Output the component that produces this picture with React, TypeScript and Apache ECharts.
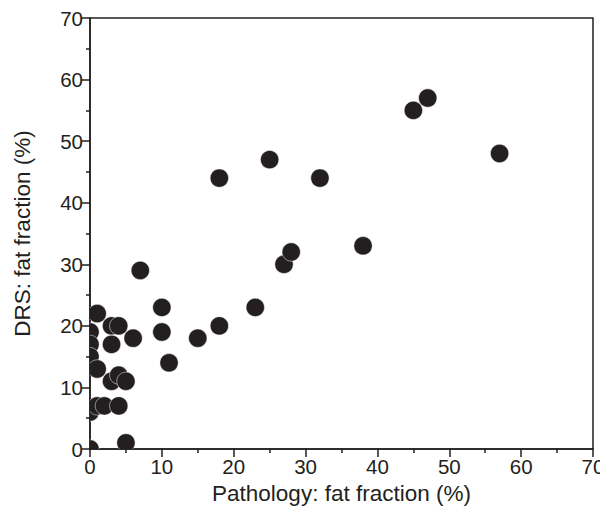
import React, { useEffect, useRef } from "react";
import * as echarts from "echarts";

const pathologyX: number[] = [
  0, 0, 0, 0, 1, 1, 0, 1, 2, 4, 3, 4, 3, 3, 4, 5, 6, 5, 7, 10, 10, 11, 15, 18, 18, 23, 25, 27, 28, 32, 38, 45, 47, 57,
];
const drsY: number[] = [
  0, 19, 17, 15, 13, 22, 6, 7, 7, 7, 11, 12, 20, 17, 20, 11, 18, 1, 29, 23, 19, 14, 18, 44, 20, 23, 47, 30, 32, 44, 33, 55, 57, 48,
];
const axisTicks: number[] = [0, 10, 20, 30, 40, 50, 60, 70];

export default function App() {
  const ref = useRef<HTMLDivElement>(null);
  useEffect(() => {
    if (!ref.current) return;
    const chart = echarts.init(ref.current, undefined, { renderer: "svg" });
    const points = pathologyX.map((x, i) => [x, drsY[i]]);
    const font = "'Liberation Sans', Arial, sans-serif";
    const ink = "#231f20";
    const axisCommon = {
      type: "value" as const,
      min: axisTicks[0],
      max: axisTicks[axisTicks.length - 1],
      interval: 10,
      nameLocation: "middle" as const,
      nameTextStyle: { fontFamily: font, fontSize: 22.5, color: ink },
      axisLine: { show: true, onZero: false, lineStyle: { color: ink, width: 1.5 } },
      axisTick: { show: true, inside: false, length: 8, lineStyle: { color: ink, width: 1.5 } },
      minorTick: { show: true, splitNumber: 2, length: 4, lineStyle: { color: ink, width: 1.5 } },
      splitLine: { show: false },
      axisLabel: { fontFamily: font, fontSize: 20.5, color: ink, margin: 7 },
    };
    chart.setOption({
      animation: false,
      backgroundColor: "#ffffff",
      grid: {
        left: 90,
        top: 18,
        right: 15,
        bottom: 72,
        show: true,
        borderColor: ink,
        borderWidth: 1.5,
        backgroundColor: "transparent",
      },
      xAxis: { ...axisCommon, name: "Pathology: fat fraction (%)", nameGap: 33 },
      yAxis: { ...axisCommon, name: "DRS: fat fraction (%)", nameGap: 56 },
      series: [
        {
          type: "custom",
          data: points,
          clip: true,
          renderItem: (params: any, api: any) => {
            const p = api.coord([api.value(0), api.value(1)]);
            return {
              type: "circle",
              shape: { cx: p[0], cy: p[1], r: 9.2 },
              style: { fill: ink, stroke: "#ffffff", lineWidth: 0.5 },
            };
          },
        },
      ],
    });
    return () => chart.dispose();
  }, []);
  return <div ref={ref} style={{ width: 608, height: 521, margin: -8 }} />;
}
